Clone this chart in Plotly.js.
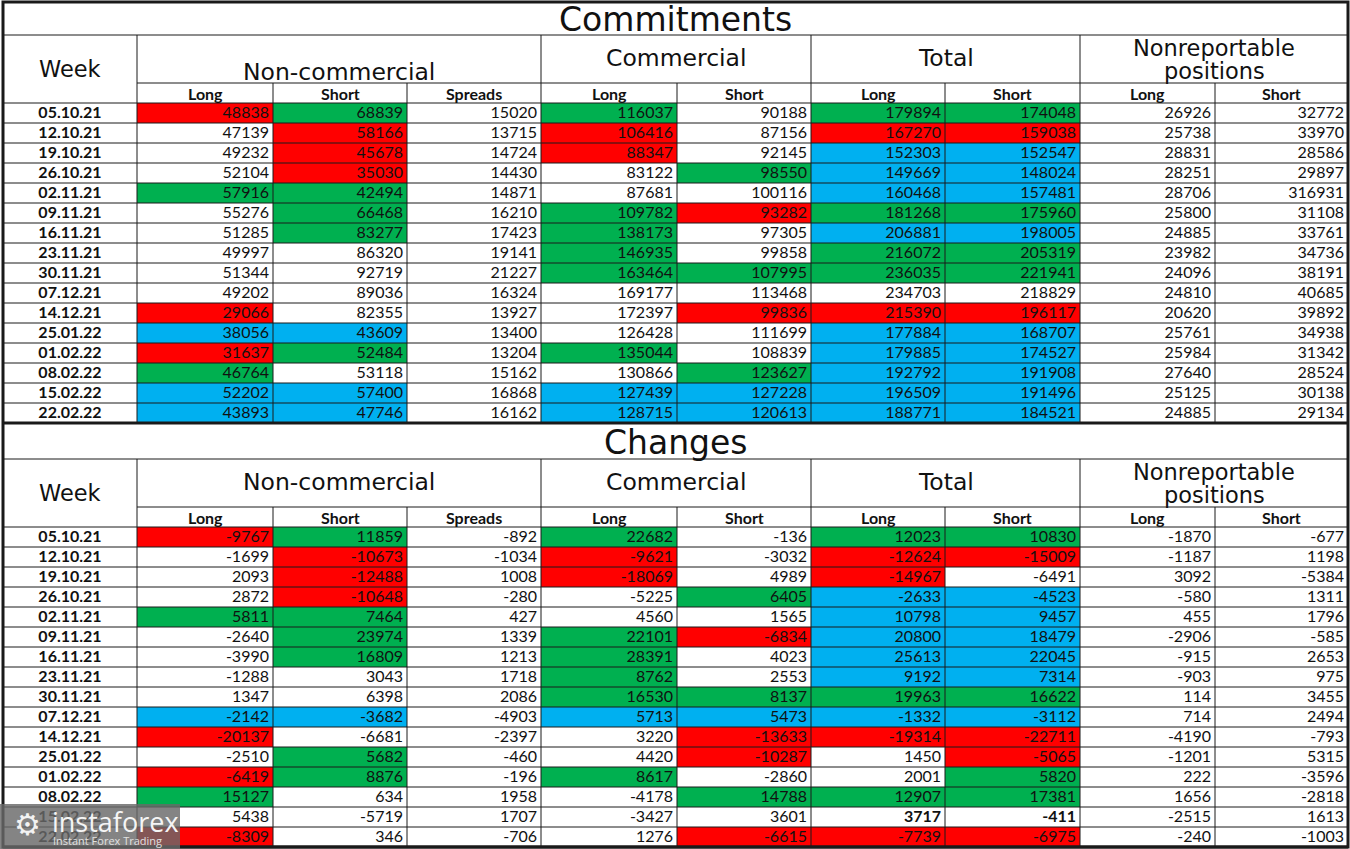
<!DOCTYPE html>
<html>
<head>
<meta charset="utf-8">
<script src="https://cdn.plot.ly/plotly-3.0.1.min.js"></script>
<style>html,body{margin:0;padding:0;background:#fff;}</style>
</head>
<body>
<div id="chart" style="width:1350px;height:849px;"></div>
<script>
// ---- data: weeks and column values ----
const weeks = ["05.10.21","12.10.21","19.10.21","26.10.21","02.11.21","09.11.21","16.11.21","23.11.21",
  "30.11.21","07.12.21","14.12.21","25.01.22","01.02.22","08.02.22","15.02.22","22.02.22"];
const subHeads = ["Long","Short","Spreads","Long","Short","Long","Short","Long","Short"];

// Commitments
const comNcLong   = [48838,47139,49232,52104,57916,55276,51285,49997,51344,49202,29066,38056,31637,46764,52202,43893];
const comNcShort  = [68839,58166,45678,35030,42494,66468,83277,86320,92719,89036,82355,43609,52484,53118,57400,47746];
const comSpreads  = [15020,13715,14724,14430,14871,16210,17423,19141,21227,16324,13927,13400,13204,15162,16868,16162];
const comCLong    = [116037,106416,88347,83122,87681,109782,138173,146935,163464,169177,172397,126428,135044,130866,127439,128715];
const comCShort   = [90188,87156,92145,98550,100116,93282,97305,99858,107995,113468,99836,111699,108839,123627,127228,120613];
const comTLong    = [179894,167270,152303,149669,160468,181268,206881,216072,236035,234703,215390,177884,179885,192792,196509,188771];
const comTShort   = [174048,159038,152547,148024,157481,175960,198005,205319,221941,218829,196117,168707,174527,191908,191496,184521];
const comNrLong   = [26926,25738,28831,28251,28706,25800,24885,23982,24096,24810,20620,25761,25984,27640,25125,24885];
const comNrShort  = [32772,33970,28586,29897,316931,31108,33761,34736,38191,40685,39892,34938,31342,28524,30138,29134];

// cell fills: w white, r red, g green, b blue
const comNcLongFill  = ["r","w","w","w","g","w","w","w","w","w","r","b","r","g","b","b"];
const comNcShortFill = ["g","r","r","r","g","g","g","w","w","w","w","b","g","w","b","b"];
const comCLongFill   = ["g","r","r","w","w","g","g","g","g","w","w","w","g","w","b","b"];
const comCShortFill  = ["w","w","w","g","w","r","w","w","g","w","r","w","w","g","b","b"];
const comTLongFill   = ["g","r","b","b","b","g","b","g","g","w","r","b","b","b","b","b"];
const comTShortFill  = ["g","r","b","b","b","g","b","g","g","w","r","b","b","b","b","b"];

// Changes
const chgNcLong   = [-9767,-1699,2093,2872,5811,-2640,-3990,-1288,1347,-2142,-20137,-2510,-6419,15127,5438,-8309];
const chgNcShort  = [11859,-10673,-12488,-10648,7464,23974,16809,3043,6398,-3682,-6681,5682,8876,634,-5719,346];
const chgSpreads  = [-892,-1034,1008,-280,427,1339,1213,1718,2086,-4903,-2397,-460,-196,1958,1707,-706];
const chgCLong    = [22682,-9621,-18069,-5225,4560,22101,28391,8762,16530,5713,3220,4420,8617,-4178,-3427,1276];
const chgCShort   = [-136,-3032,4989,6405,1565,-6834,4023,2553,8137,5473,-13633,-10287,-2860,14788,3601,-6615];
const chgTLong    = [12023,-12624,-14967,-2633,10798,20800,25613,9192,19963,-1332,-19314,1450,2001,12907,3717,-7739];
const chgTShort   = [10830,-15009,-6491,-4523,9457,18479,22045,7314,16622,-3112,-22711,-5065,5820,17381,-411,-6975];
const chgNrLong   = [-1870,-1187,3092,-580,455,-2906,-915,-903,114,714,-4190,-1201,222,1656,-2515,-240];
const chgNrShort  = [-677,1198,-5384,1311,1796,-585,2653,975,3455,2494,-793,5315,-3596,-2818,1613,-1003];

const chgNcLongFill  = ["r","w","w","w","g","w","w","w","w","b","r","w","r","g","w","r"];
const chgNcShortFill = ["g","r","r","r","g","g","g","w","w","b","w","g","g","w","w","w"];
const chgCLongFill   = ["g","r","r","w","w","g","g","g","g","b","w","w","g","w","w","w"];
const chgCShortFill  = ["w","w","w","g","w","r","w","w","g","b","r","r","w","g","w","r"];
const chgTLongFill   = ["g","r","r","b","b","b","b","b","g","b","r","w","w","g","w","r"];
const chgTShortFill  = ["g","r","w","b","b","b","b","b","g","b","r","r","g","g","w","r"];
const chgBold = [[14,5],[14,6]];   // [row, column] printed in bold

const whiteCol = weeks.map(() => "w");

// ---- geometry ----
const colEdges = [3,137,273,407,541,677,811,945,1080,1215,1348];
const ROW_H = 20;
const NUM_FONT = "Lato, 'Open Sans', sans-serif";
const HEAD_FONT = "'DejaVu Sans', Verdana, sans-serif";
const INK = "#111";

const fillCode = {w:0, r:1, g:2, b:3};
const fillScale = [[0,"#ffffff"],[0.25,"#ffffff"],[0.25,"#ff0000"],[0.5,"#ff0000"],
  [0.5,"#00b050"],[0.75,"#00b050"],[0.75,"#00b0f0"],[1,"#00b0f0"]];

const traces = [];
const shapes = [];
const annotations = [];

function line(x0, y0, x1, y1, w){
  shapes.push({type:"line", xref:"x", yref:"y", x0, y0, x1, y1, line:{color:"#1a1a1a", width:w || 1}});
}
function label(x, y, text, size, opts){
  annotations.push(Object.assign({x, y, xref:"x", yref:"y", text, showarrow:false,
    font:{family:HEAD_FONT, size, color:INK}}, opts || {}));
}

function drawTable(t){
  const dataTop = t.subTop + ROW_H;
  const bottom = dataTop + ROW_H * weeks.length;
  const rowEdges = [];
  for (let i = 0; i <= weeks.length; i++) rowEdges.push(dataTop + i * ROW_H);
  const rowMid = weeks.map((_, i) => dataTop + i * ROW_H + ROW_H / 2 + 0.5);

  // fills
  const z = weeks.map((_, i) => t.fills.map(f => fillCode[f[i]]));
  traces.push({type:"heatmap", x:colEdges.slice(1), y:rowEdges, z, zmin:0, zmax:3,
    colorscale:fillScale, showscale:false, hoverinfo:"skip"});

  // week column
  traces.push({type:"scatter", mode:"text", x:weeks.map(() => (colEdges[0] + colEdges[1]) / 2),
    y:rowMid, text:weeks, textposition:"middle center", hoverinfo:"skip",
    textfont:{family:NUM_FONT, size:16, color:INK, weight:700}});

  // number columns
  t.cols.forEach((vals, c) => {
    const txt = vals.map((v, i) => (t.bold || []).some(b => b[0] === i && b[1] === c) ? "<b>" + v + "</b>" : String(v));
    traces.push({type:"scatter", mode:"text", x:vals.map(() => colEdges[c + 2] - 4), y:rowMid,
      text:txt, textposition:"middle left", hoverinfo:"skip",
      textfont:{family:NUM_FONT, size:16, color:INK}});
  });

  // grid
  line(colEdges[0], t.headTop, colEdges[10], t.headTop);
  line(colEdges[1], t.subTop, colEdges[10], t.subTop);
  rowEdges.forEach((y, i) => line(colEdges[0], y, colEdges[10], y, i === weeks.length ? 3 : 1));
  [1,4,6,8].forEach(k => line(colEdges[k], t.headTop, colEdges[k], bottom));
  [2,3,5,7,9].forEach(k => line(colEdges[k], t.subTop, colEdges[k], bottom));

  // headers
  label((colEdges[0] + colEdges[10]) / 2, (t.titleTop + t.headTop) / 2 + 1, t.title, 33);
  label((colEdges[0] + colEdges[1]) / 2, (t.headTop + dataTop) / 2, "Week", 22.5);
  label((colEdges[1] + colEdges[4]) / 2, t.headTop + t.ncOffset, "Non-commercial", 23.5);
  label((colEdges[4] + colEdges[6]) / 2, t.headTop + 23, "Commercial", 23.5);
  label((colEdges[6] + colEdges[8]) / 2, t.headTop + 23, "Total", 23.5);
  label((colEdges[8] + colEdges[10]) / 2, t.headTop + 13, "Nonreportable", 22.5);
  label((colEdges[8] + colEdges[10]) / 2, t.headTop + 36, "positions", 22.5);
  subHeads.forEach((s, c) => label((colEdges[c + 1] + colEdges[c + 2]) / 2, t.subTop + 10.5, "<b>" + s + "</b>", 16,
    {font:{family:NUM_FONT, size:16, color:INK}}));
}

drawTable({
  title:"Commitments", titleTop:2, headTop:35, subTop:83, ncOffset:37,
  cols:[comNcLong,comNcShort,comSpreads,comCLong,comCShort,comTLong,comTShort,comNrLong,comNrShort],
  fills:[comNcLongFill,comNcShortFill,whiteCol,comCLongFill,comCShortFill,comTLongFill,comTShortFill,whiteCol,whiteCol]
});
drawTable({
  title:"Changes", titleTop:424, headTop:459, subTop:507, ncOffset:23,
  cols:[chgNcLong,chgNcShort,chgSpreads,chgCLong,chgCShort,chgTLong,chgTShort,chgNrLong,chgNrShort],
  fills:[chgNcLongFill,chgNcShortFill,whiteCol,chgCLongFill,chgCShortFill,chgTLongFill,chgTShortFill,whiteCol,whiteCol],
  bold:chgBold
});

// outer frame
shapes.push({type:"rect", xref:"x", yref:"y", x0:colEdges[0], y0:2, x1:colEdges[10], y1:847,
  line:{color:"#1a1a1a", width:3}});

// watermark
shapes.push({type:"rect", xref:"x", yref:"y", x0:0, y0:804, x1:180, y1:849, layer:"above",
  fillcolor:"rgba(105,105,105,0.82)", line:{width:0}});
label(27, 824, "⚙", 30, {font:{family:"DejaVu Sans", size:30, color:"#f2f2f2"}});
label(50, 821, "instaforex", 27, {xanchor:"left", font:{family:"'Open Sans', sans-serif", size:27, color:"#f5f5f5"}});
label(51, 840, "Instant Forex Trading", 11, {xanchor:"left", font:{family:"'Open Sans', sans-serif", size:11, color:"#e0e0e0"}});

Plotly.newPlot("chart", traces, {
  width:1350, height:849,
  margin:{t:0,r:0,b:0,l:0},
  paper_bgcolor:"#fff", plot_bgcolor:"#fff",
  showlegend:false,
  xaxis:{range:[0,1350], visible:false, fixedrange:true},
  yaxis:{range:[849,0], visible:false, fixedrange:true},
  shapes, annotations
}, {staticPlot:true});
</script>
</body>
</html>
